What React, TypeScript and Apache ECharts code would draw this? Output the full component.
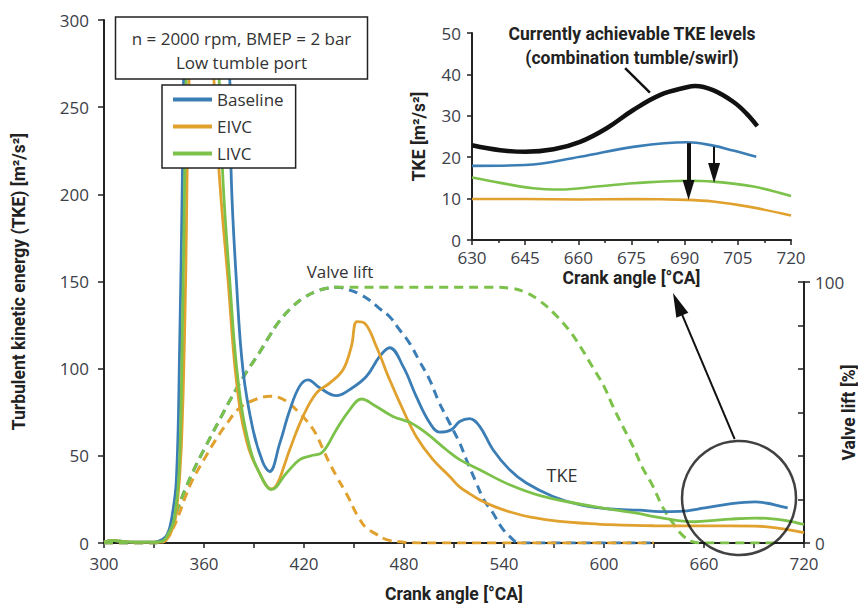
import React, { useEffect, useRef } from "react";
import * as echarts from "echarts";

// ---------- Main chart: TKE [m²/s²] vs crank angle [°CA] ----------
const baselineAngle = [300, 305, 310, 315, 320, 330, 335, 338, 340.4, 343.4, 345.4, 347, 348.5, 352, 360, 368, 373, 375.5, 376.4, 379.4, 383.4, 389.4, 395.4, 399.4, 405.4, 411.4, 417.4, 422.4, 429.4, 439.4, 447.4, 457.4, 465.4, 471.4, 479.6, 487.4, 495.4, 501.4, 508.4, 513.4, 519.4, 525.4, 533.4, 543.4, 553.4, 569.4, 585.4, 603.4, 621.4, 633.4, 645.4, 660.5, 675.5, 690.6, 698, 703.7, 710.2];
const baselineTKE = [0.5, 1.5, 1, 0.5, 0.5, 0.5, 2, 5, 13, 36, 113, 208, 300, 380, 420, 380, 300, 265, 208, 151, 99, 65, 46, 41, 57, 76, 90, 93.6, 89, 84.5, 88, 95.5, 107, 112, 101, 84, 69, 63.6, 65, 69.7, 71.4, 66.9, 53.5, 42, 34.4, 26.7, 22, 19.5, 18.8, 18, 18.1, 20.1, 22.5, 23.6, 22.8, 21.6, 20.1];

const eivcAngle = [300, 305, 310, 320, 330, 335, 338.4, 341, 343.4, 346.4, 349, 349.8, 351, 353, 360, 364, 366, 369.4, 374.4, 379.4, 385.4, 393.4, 400.4, 404, 408, 411.4, 419.4, 427.4, 435.4, 443.4, 448.4, 451.8, 456.4, 463.4, 471.4, 479.4, 487.4, 497.4, 507.4, 513, 519, 525, 534, 543, 556, 573.4, 590, 603.4, 630, 660, 690.6, 698, 708.4, 720];
const eivcTKE = [0.5, 1.5, 1, 0.5, 0.5, 0.5, 3, 8, 17, 55, 151, 208, 265, 330, 400, 330, 265, 208, 151, 93.6, 59, 40, 31, 34, 44, 53.5, 72.6, 86, 91.7, 99.4, 112.7, 127, 126, 112.7, 93.6, 76.4, 61, 47.8, 38.2, 32.5, 28.5, 25, 21, 18, 14.8, 12.4, 11.2, 10.5, 9.9, 9.8, 9.7, 9.3, 8, 5.9];

const livcAngle = [300, 305, 310, 320, 330, 335, 339, 342, 345, 347, 348.4, 350, 355, 362, 368, 371.4, 375.4, 380.4, 387.4, 395.4, 400.4, 409.4, 417.4, 424, 431, 439.4, 447.4, 454.4, 463.4, 473.4, 483.4, 493.4, 505.4, 513.4, 525.4, 543.4, 563.4, 593.4, 621.4, 630, 638, 647.3, 654.8, 666.1, 675.5, 690.6, 698, 709.4, 720];
const livcTKE = [0.5, 1.5, 1, 0.5, 0.5, 1, 6, 13, 40, 120, 208, 290, 380, 380, 290, 208, 151, 93.6, 55, 36, 30.6, 40, 47.8, 50, 52, 65, 76.4, 82.6, 78.3, 72.6, 69.2, 63, 53.5, 47.8, 42, 33.4, 26.7, 21, 16.8, 15.1, 13.8, 12.5, 12.2, 13, 13.7, 14.3, 14.1, 12.9, 10.6];

// ---------- Valve lift [%] ----------
const baselineLiftAngle = [300, 325, 330, 335, 338, 341, 345, 349, 355, 361, 370, 379, 386, 393, 399, 405, 413, 420, 427, 433, 440, 447, 453, 459.4, 465, 471.4, 477, 483.4, 489, 495.4, 501, 507.4, 513.4, 517.4, 523.4, 528, 533.4, 538, 543.4, 549.4, 560, 630];
const baselineLift = [0, 0, 0, 1, 3, 7.6, 14.5, 21, 29.5, 37, 48, 58.6, 66, 72.7, 79, 84.8, 90.5, 94, 96.3, 97.5, 98, 97, 95.5, 93, 90, 86.7, 82, 76.5, 70, 62.5, 54, 45.9, 38.3, 32, 23, 16.5, 11.5, 6.5, 2.5, 0, 0, 0];

const eivcLiftAngle = [300, 330, 333, 338, 341, 345, 349, 353, 360, 367, 374, 381, 391, 400, 406, 412, 417, 422, 427, 431, 435, 440, 444, 447, 450, 453, 457, 463, 470, 480, 490, 630];
const eivcLift = [0, 0, 0.5, 2, 5, 11, 18, 24, 32, 39.5, 46, 51.5, 55, 56.2, 55.5, 53, 50, 46.5, 42, 36.5, 31, 25, 20.5, 17, 13, 9.5, 6, 3.5, 1.2, 0.3, 0, 0];

const livcLiftAngle = [300, 325, 330, 335, 338, 341, 345, 349, 355, 361, 370, 379, 386, 393, 399, 405, 413, 420, 427, 433, 440, 530, 545, 553, 561, 570, 579, 586, 593, 600, 605.4, 611, 617.4, 623, 629.4, 635, 641.4, 647, 653, 658, 705];
const livcLift = [0, 0, 0, 1, 3, 7.6, 14.5, 21, 29.5, 37, 48, 58.6, 66, 72.7, 79, 84.8, 90.5, 94, 96.3, 97.5, 98, 98, 97.5, 96, 93, 88, 81.6, 75, 67.6, 60, 52.3, 45, 37, 29, 21.7, 14, 7.6, 3, 0.5, 0, 0];

// ---------- Inset: 630–720 °CA ----------
const achievableAngle = [630, 638, 645, 653, 660.5, 668, 675.5, 683, 690.6, 693, 698, 703.7, 707.4, 710.5];
const achievableTKE = [22.9, 21.7, 21.3, 21.9, 23.7, 27, 31.4, 35, 36.9, 37.2, 36.2, 33.4, 30.6, 27.5];
const insetBaselineAngle = [630, 645, 660.5, 675.5, 690.6, 698, 703.7, 710.2];
const insetBaselineTKE = [17.9, 18.1, 20.1, 22.5, 23.6, 22.8, 21.6, 20.1];
const insetLivcAngle = [630, 638, 647.3, 654.8, 666.1, 675.5, 690.6, 698, 709.4, 720];
const insetLivcTKE = [15.1, 13.8, 12.5, 12.2, 13, 13.7, 14.3, 14.1, 12.9, 10.6];
const insetEivcAngle = [630, 645, 660, 675.5, 690.6, 698, 708.4, 720];
const insetEivcTKE = [9.9, 9.9, 9.8, 9.9, 9.7, 9.3, 8, 5.9];

// Annotation anchors (data coordinates)
const zoomCircle = [681, 25.8];
const zoomArrowFrom = [678.4, 59.6];
const zoomArrowTo = [644.2, 137];
const bigDropFrom = [691.1, 23.4];
const bigDropTo = [691.1, 12.1];
const smallDropFrom = [698.3, 22.5];
const smallDropTo = [698.3, 16.2];
const leaderFrom = [673.2, 41.5];
const leaderTo = [680.2, 35.6];

const BLUE = "#3b7db5";
const ORANGE = "#e1a12e";
const GREEN = "#7cc24a";
const AXIS = "#222";
const LABEL = "#3c4048";
const FONT = "Open Sans";
const BOLD = "Roboto";

const zip = (xs: number[], ys: number[]) => xs.map((x, i) => [x, ys[i]]);

export default function App() {
  const ref = useRef<HTMLDivElement>(null);
  useEffect(() => {
    if (!ref.current) return;
    const chart = echarts.init(ref.current, null, { renderer: "svg" });
    const axisLine = { show: true, lineStyle: { color: AXIS, width: 2 } };
    const labelStyle = { color: LABEL, fontSize: 17, fontFamily: FONT };
    const titleStyle = { color: "#222", fontSize: 17.5, fontFamily: BOLD, fontWeight: "bold" as const };
    const gridBase = { containLabel: false, outerBoundsMode: "none" };

    const solid = (name: string, color: string, data: number[][], xi: number, width = 2.8) => ({
      name,
      type: "line",
      xAxisIndex: xi,
      yAxisIndex: xi,
      data,
      smooth: 0.4,
      showSymbol: false,
      clip: true,
      silent: true,
      lineStyle: { color, width },
      itemStyle: { color },
      z: 3,
    });
    const dashed = (name: string, color: string, data: number[][]) => ({
      name,
      type: "line",
      xAxisIndex: 1,
      yAxisIndex: 1,
      data,
      smooth: 0.4,
      showSymbol: false,
      silent: true,
      lineStyle: { color, width: 3, type: [9, 6] },
      itemStyle: { color },
      z: 2,
    });
    const marker = (from: number[], to: number[], width: number, head: number[] | null) => ({
      silent: true,
      symbol: head ? ["none", "triangle"] : ["none", "none"],
      label: { show: false },
      lineStyle: { color: "#111", width, type: "solid" },
      itemStyle: { color: "#111" },
      emphasis: { disabled: true },
      data: [
        [
          { coord: from, symbol: "none" },
          head ? { coord: to, symbol: "triangle", symbolSize: head } : { coord: to, symbol: "none" },
        ],
      ],
    });

    chart.setOption({
      animation: false,
      backgroundColor: "#fff",
      grid: [
        { ...gridBase, left: 104, right: 54, top: 20, bottom: 65 },
        { ...gridBase, left: 104, right: 54, top: 282, bottom: 65 },
        { ...gridBase, left: 472, right: 67, top: 33, bottom: 368 },
        { ...gridBase, left: 104, right: 54, top: 282, bottom: 65 },
      ],
      legend: {
        data: ["Baseline", "EIVC", "LIVC"],
        orient: "vertical",
        left: 162,
        top: 85,
        backgroundColor: "#fff",
        borderColor: AXIS,
        borderWidth: 1.5,
        padding: [6, 12, 6, 11],
        itemWidth: 39,
        itemHeight: 4,
        itemGap: 10,
        itemStyle: { borderWidth: 0 },
        icon: "rect",
        selectedMode: false,
        textStyle: { color: "#333", fontSize: 17, fontFamily: FONT },
        z: 8,
      },
      xAxis: [
        {
          gridIndex: 0,
          type: "value",
          min: 300,
          max: 720,
          interval: 60,
          axisLine,
          axisTick: { show: true, length: 5, lineStyle: { color: AXIS, width: 1.5 } },
          minorTick: { show: true, splitNumber: 2, length: 5, lineStyle: { color: AXIS, width: 1.5 } },
          splitLine: { show: false },
          axisLabel: { ...labelStyle, margin: 12 },
          name: "Crank angle [°CA]",
          nameLocation: "middle",
          nameGap: 42,
          nameTextStyle: titleStyle,
        },
        { gridIndex: 1, type: "value", min: 300, max: 720, show: false },
        {
          gridIndex: 2,
          type: "value",
          min: 630,
          max: 720,
          interval: 15,
          axisLine,
          axisTick: { show: true, length: 5, lineStyle: { color: AXIS, width: 1.5 } },
          minorTick: { show: true, splitNumber: 2, length: 3, lineStyle: { color: AXIS, width: 1.5 } },
          splitLine: { show: false },
          axisLabel: { ...labelStyle, margin: 9 },
          name: "Crank angle [°CA]",
          nameLocation: "middle",
          nameGap: 29,
          nameTextStyle: titleStyle,
        },
        { gridIndex: 3, type: "value", min: 300, max: 720, show: false },
      ],
      yAxis: [
        {
          gridIndex: 0,
          type: "value",
          min: 0,
          max: 300,
          interval: 50,
          axisLine,
          axisTick: { show: true, length: 6, lineStyle: { color: AXIS, width: 1.5 } },
          splitLine: { show: false },
          axisLabel: { ...labelStyle, margin: 15 },
          name: "Turbulent kinetic energy (TKE) [m²/s²]",
          nameLocation: "middle",
          nameGap: 76,
          nameRotate: 90,
          nameTextStyle: titleStyle,
        },
        {
          gridIndex: 1,
          type: "value",
          position: "right",
          min: 0,
          max: 100,
          interval: 100,
          axisLine,
          axisTick: { show: true, length: 6, lineStyle: { color: AXIS, width: 1.5 } },
          splitLine: { show: false },
          axisLabel: { ...labelStyle, margin: 11 },
          name: "Valve lift [%]",
          nameLocation: "middle",
          nameGap: 36,
          nameRotate: 90,
          nameMoveOverlap: false,
          nameTextStyle: titleStyle,
        },
        {
          gridIndex: 2,
          type: "value",
          min: 0,
          max: 50,
          interval: 10,
          axisLine,
          axisTick: { show: true, length: 5, lineStyle: { color: AXIS, width: 1.5 } },
          splitLine: { show: false },
          axisLabel: { ...labelStyle, margin: 11 },
          name: "TKE [m²/s²]",
          nameLocation: "middle",
          nameGap: 44,
          nameRotate: 90,
          nameTextStyle: titleStyle,
        },
        {
          gridIndex: 3,
          type: "value",
          position: "right",
          min: 0,
          max: 100,
          interval: 100 / 6,
          axisLine: { show: false },
          axisTick: { show: true, inside: true, length: 6, lineStyle: { color: AXIS, width: 1.5 } },
          axisLabel: { show: false },
          splitLine: { show: false },
        },
      ],
      series: [
        dashed("Baseline lift", BLUE, zip(baselineLiftAngle, baselineLift)),
        dashed("EIVC lift", ORANGE, zip(eivcLiftAngle, eivcLift)),
        dashed("LIVC lift", GREEN, zip(livcLiftAngle, livcLift)),
        solid("Baseline", BLUE, zip(baselineAngle, baselineTKE), 0),
        solid("EIVC", ORANGE, zip(eivcAngle, eivcTKE), 0),
        solid("LIVC", GREEN, zip(livcAngle, livcTKE), 0),
        {
          name: "zoom circle",
          type: "scatter",
          xAxisIndex: 0,
          yAxisIndex: 0,
          data: [zoomCircle],
          symbol: "circle",
          symbolSize: 114,
          silent: true,
          itemStyle: { color: "rgba(0,0,0,0)", borderColor: "#111", borderWidth: 2.5 },
          z: 5,
          markLine: marker(zoomArrowFrom, zoomArrowTo, 2, [13, 24]),
        },
        {
          ...solid("Achievable", "#111", zip(achievableAngle, achievableTKE), 2, 4.5),
          markLine: marker(leaderFrom, leaderTo, 2.5, null),
        },
        {
          ...solid("Baseline inset", BLUE, zip(insetBaselineAngle, insetBaselineTKE), 2, 2.6),
          markLine: marker(smallDropFrom, smallDropTo, 2, [12, 20]),
        },
        solid("LIVC inset", GREEN, zip(insetLivcAngle, insetLivcTKE), 2, 2.6),
        {
          ...solid("EIVC inset", ORANGE, zip(insetEivcAngle, insetEivcTKE), 2, 2.6),
          markLine: marker(bigDropFrom, bigDropTo, 4, [12, 20]),
        },
      ],
      graphic: [
        {
          type: "rect",
          z: 20,
          shape: { x: 115.5, y: 17, width: 252, height: 62 },
          style: { fill: "#fff", stroke: AXIS, lineWidth: 1.5 },
        },
        {
          type: "text",
          z: 21,
          x: 241.5,
          y: 38,
          style: { text: "n = 2000 rpm, BMEP = 2 bar", fill: "#333", font: `17px "${FONT}"`, align: "center", verticalAlign: "middle" },
        },
        {
          type: "text",
          z: 21,
          x: 241.5,
          y: 62,
          style: { text: "Low tumble port", fill: "#333", font: `17px "${FONT}"`, align: "center", verticalAlign: "middle" },
        },
        {
          type: "text",
          z: 21,
          x: 340,
          y: 271,
          style: { text: "Valve lift", fill: "#333", font: `17px "${FONT}"`, align: "center", verticalAlign: "middle" },
        },
        {
          type: "text",
          z: 21,
          x: 562,
          y: 475,
          style: { text: "TKE", fill: "#333", font: `18px "${FONT}"`, align: "center", verticalAlign: "middle" },
        },
        {
          type: "text",
          z: 21,
          x: 632,
          y: 34,
          style: { text: "Currently achievable TKE levels", fill: "#222", font: `bold 17.5px "${BOLD}"`, align: "center", verticalAlign: "middle" },
        },
        {
          type: "text",
          z: 21,
          x: 632,
          y: 58,
          style: { text: "(combination tumble/swirl)", fill: "#222", font: `bold 17.5px "${BOLD}"`, align: "center", verticalAlign: "middle" },
        },
      ],
    });
    return () => chart.dispose();
  }, []);
  return <div ref={ref} style={{ position: "fixed", left: 0, top: 0, width: 858, height: 608 }} />;
}
